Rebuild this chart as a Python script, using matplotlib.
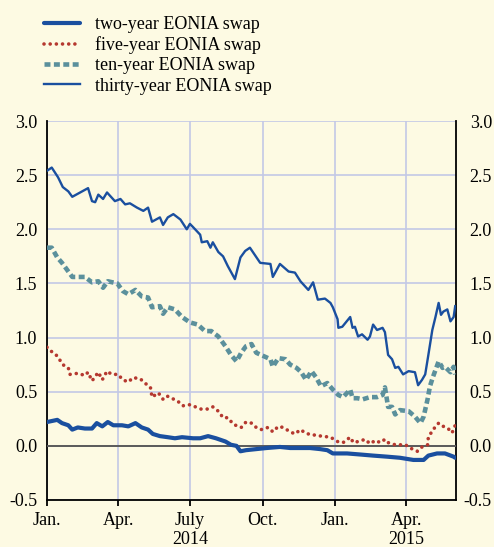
import numpy as np
import matplotlib
matplotlib.use("Agg")
import matplotlib.pyplot as plt
import matplotlib.dates as mdates
import matplotlib.transforms as mtransforms

# ---------------- data (days since 2014-01-01, percent) ----------------
start = np.datetime64("2014-01-01")

days_30y = [0, 6, 14, 20, 27, 32, 42, 52, 57, 61, 65, 71, 76, 86, 93, 99, 105, 114, 122, 128,
            133, 143, 147, 153, 160, 169, 177, 181, 185, 194, 196, 203, 207, 210, 217, 223, 229, 238, 245, 251,
            257, 270, 283, 286, 295, 306, 314, 321, 331, 337, 343, 352, 359, 362, 368, 369, 374, 384, 387, 390,
            394, 399, 406, 409, 413, 418, 425, 428, 432, 437, 441, 445, 451, 458, 466, 470, 475, 479, 483, 488,
            492, 496, 499, 502, 507, 511, 515, 517]
vals_30y = [2.54, 2.57, 2.48, 2.39, 2.35, 2.30, 2.34, 2.38, 2.26, 2.25, 2.32, 2.28, 2.34, 2.26, 2.28, 2.23, 2.24, 2.20, 2.17, 2.20,
            2.07, 2.11, 2.04, 2.11, 2.14, 2.09, 2.00, 2.05, 2.02, 1.95, 1.88, 1.89, 1.83, 1.88, 1.79, 1.75, 1.66, 1.54, 1.74, 1.80,
            1.83, 1.69, 1.68, 1.56, 1.68, 1.61, 1.60, 1.52, 1.44, 1.51, 1.35, 1.36, 1.32, 1.28, 1.17, 1.09, 1.10, 1.19, 1.09, 1.10,
            1.01, 1.03, 0.98, 1.01, 1.12, 1.07, 1.09, 1.05, 0.84, 0.80, 0.72, 0.73, 0.66, 0.69, 0.68, 0.56, 0.61, 0.66, 0.84, 1.07,
            1.19, 1.32, 1.21, 1.24, 1.26, 1.15, 1.19, 1.29]

days_10y = [0, 6, 13, 19, 25, 32, 38, 48, 57, 65, 71, 77, 89, 96, 103, 112, 120, 128, 133, 143,
            147, 153, 162, 171, 181, 191, 200, 208, 217, 226, 233, 240, 246, 252, 259, 265, 274, 283, 286, 293,
            302, 308, 316, 322, 328, 335, 341, 347, 355, 362, 369, 375, 384, 387, 393, 400, 409, 418, 425, 428,
            432, 437, 441, 447, 458, 466, 473, 477, 482, 485, 489, 496, 501, 504, 511, 515, 517]
vals_10y = [1.83, 1.83, 1.74, 1.69, 1.63, 1.56, 1.56, 1.56, 1.51, 1.52, 1.46, 1.52, 1.50, 1.43, 1.40, 1.44, 1.38, 1.37, 1.28, 1.29,
            1.22, 1.28, 1.26, 1.19, 1.14, 1.12, 1.06, 1.06, 1.01, 0.92, 0.84, 0.78, 0.86, 0.92, 0.94, 0.86, 0.83, 0.80, 0.73, 0.81,
            0.80, 0.75, 0.72, 0.68, 0.61, 0.69, 0.63, 0.55, 0.58, 0.52, 0.47, 0.45, 0.52, 0.44, 0.44, 0.43, 0.45, 0.45, 0.47, 0.54,
            0.36, 0.36, 0.29, 0.33, 0.32, 0.27, 0.21, 0.27, 0.43, 0.55, 0.64, 0.78, 0.72, 0.73, 0.68, 0.73, 0.66]

days_5y = [0, 6, 13, 20, 27, 29, 39, 48, 52, 57, 65, 70, 76, 82, 90, 96, 103, 109, 118, 124,
           131, 133, 141, 147, 152, 158, 166, 172, 181, 188, 195, 204, 210, 217, 223, 229, 236, 242, 246, 252,
           259, 265, 271, 280, 286, 293, 299, 308, 314, 321, 327, 335, 341, 347, 359, 368, 375, 384, 388, 394,
           403, 409, 416, 422, 428, 432, 441, 447, 454, 460, 469, 475, 482, 483, 489, 496, 502, 508, 513, 517]
vals_5y = [0.91, 0.87, 0.83, 0.75, 0.72, 0.66, 0.67, 0.65, 0.68, 0.60, 0.68, 0.61, 0.69, 0.66, 0.66, 0.61, 0.59, 0.63, 0.62, 0.58,
           0.54, 0.45, 0.49, 0.43, 0.46, 0.44, 0.41, 0.37, 0.38, 0.36, 0.34, 0.34, 0.36, 0.32, 0.26, 0.26, 0.20, 0.18, 0.17, 0.22,
           0.21, 0.17, 0.15, 0.17, 0.13, 0.18, 0.17, 0.13, 0.11, 0.15, 0.12, 0.10, 0.10, 0.09, 0.08, 0.04, 0.03, 0.08, 0.03, 0.04,
           0.06, 0.02, 0.05, 0.03, 0.06, 0.03, 0.01, 0.01, 0.01, -0.02, -0.05, -0.01, 0.01, 0.08, 0.15, 0.21, 0.18, 0.16, 0.12, 0.19]

days_2y = [0, 13, 19, 27, 32, 39, 48, 57, 63, 70, 77, 84, 95, 103, 112, 120, 128, 134, 143, 153,
           162, 171, 185, 194, 204, 214, 226, 233, 240, 245, 252, 265, 278, 295, 308, 321, 333, 346, 355, 362,
           380, 397, 413, 431, 447, 464, 477, 483, 494, 504, 515, 517]
vals_2y = [0.22, 0.24, 0.21, 0.19, 0.15, 0.17, 0.16, 0.16, 0.21, 0.18, 0.22, 0.19, 0.19, 0.18, 0.21, 0.17, 0.15, 0.11, 0.09, 0.08,
           0.07, 0.08, 0.07, 0.07, 0.09, 0.07, 0.04, 0.01, 0.00, -0.05, -0.04, -0.03, -0.02, -0.01, -0.02, -0.02, -0.02, -0.03, -0.04, -0.07,
           -0.07, -0.08, -0.09, -0.10, -0.11, -0.13, -0.13, -0.09, -0.07, -0.07, -0.10, -0.11]

labels = ["two-year EONIA swap", "five-year EONIA swap", "ten-year EONIA swap", "thirty-year EONIA swap"]
tick_dates = ["2014-01-01", "2014-04-01", "2014-07-01", "2014-10-01", "2015-01-01", "2015-04-01"]
tick_labels = ["Jan.", "Apr.", "July", "Oct.", "Jan.", "Apr."]
year_labels = [("2014-07-01", "2014"), ("2015-04-01", "2015")]
y_ticks = [-0.5, 0.0, 0.5, 1.0, 1.5, 2.0, 2.5, 3.0]


def to_dates(d):
    return start + np.array(d, dtype="timedelta64[D]")


# ---------------- style ----------------
plt.rcParams["font.family"] = ["Liberation Serif", "DejaVu Serif"]
FS = 13
BG = "#fdfae3"
BLUE = "#1a4f9f"
RED = "#b5382f"
TEAL = "#5b909c"
GRID = "#c3c8e6"

fig = plt.figure(figsize=(4.94, 5.47), dpi=100, facecolor=BG)
ax = fig.add_axes([47 / 494, 1 - 500 / 547, (456 - 47) / 494, (500 - 121) / 547])
ax.set_facecolor(BG)

l2, = ax.plot(to_dates(days_2y), vals_2y, color=BLUE, lw=3.0, solid_capstyle="round", zorder=5)
l5, = ax.plot(to_dates(days_5y), vals_5y, color=RED, lw=2.6, linestyle=(0, (0.01, 1.7)),
              dash_capstyle="round", zorder=4)
l10, = ax.plot(to_dates(days_10y), vals_10y, color=TEAL, lw=3.3, linestyle=(0, (1.3, 0.75)),
               dash_capstyle="butt", zorder=4)
l30, = ax.plot(to_dates(days_30y), vals_30y, color=BLUE, lw=1.7, zorder=4)

ax.axhline(0, color="#5a5a5a", lw=1.4, zorder=3)

ax.set_ylim(-0.5, 3.0)
ax.set_xlim(np.datetime64("2014-01-01"), np.datetime64("2015-06-03"))
ax.set_yticks(y_ticks)
ax.set_yticklabels([f"{v:.1f}" for v in y_ticks])
ax.set_xticks([np.datetime64(d) for d in tick_dates])
ax.set_xticklabels(tick_labels)

ax.grid(True, color=GRID, lw=1.2, zorder=0)
ax.spines["top"].set_visible(False)
for s in ["left", "right", "bottom"]:
    ax.spines[s].set_color("black")
    ax.spines[s].set_linewidth(1.3)

ax.tick_params(axis="y", length=0, pad=7, labelsize=FS, labelleft=True, right=False)
ax.tick_params(axis="x", direction="out", length=4.3, width=1.3, pad=4.3, labelsize=FS)

# right-hand labels, right-aligned so the minus sign hangs to the left
right_tr = mtransforms.blended_transform_factory(ax.transAxes, ax.transData) + \
    mtransforms.ScaledTranslation(36 / 100, 0, fig.dpi_scale_trans)
for v in y_ticks:
    ax.text(1.0, v, f"{v:.1f}", transform=right_tr, ha="right", va="center_baseline",
            fontsize=FS, clip_on=False)

for d, t in year_labels:
    ax.annotate(t, xy=(mdates.date2num(np.datetime64(d)), 0), xycoords=("data", "axes fraction"),
                xytext=(0, -32.0), textcoords="offset points", ha="center", va="baseline", fontsize=FS)

fig.legend([l2, l5, l10, l30], labels, loc="upper left", bbox_to_anchor=(44 / 494, 1 - 16 / 547),
           frameon=False, fontsize=FS, handlelength=2.0, handletextpad=0.85, labelspacing=0.18,
           borderpad=0, borderaxespad=0)

fig.savefig("out.png", dpi=100, facecolor=BG)
